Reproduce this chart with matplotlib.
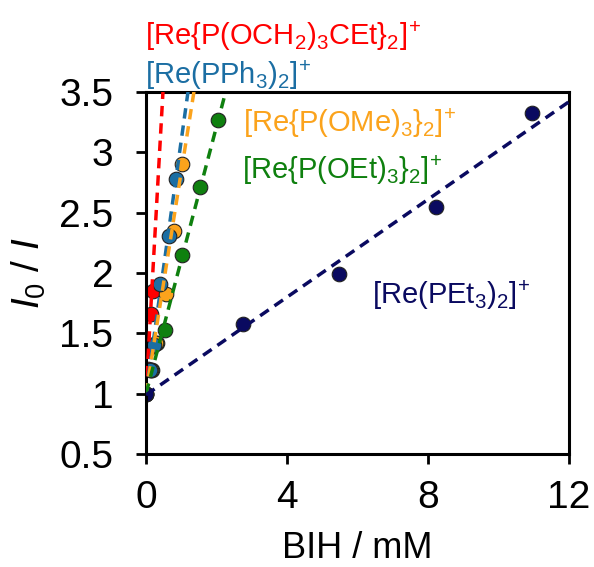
import numpy as np
import matplotlib
matplotlib.use("Agg")
import matplotlib.pyplot as plt

plt.rcParams['font.family'] = ['Liberation Sans', 'DejaVu Sans']
plt.rcParams['mathtext.fontset'] = 'custom'
plt.rcParams['mathtext.rm'] = 'Liberation Sans'
plt.rcParams['mathtext.it'] = 'Liberation Sans:italic'

# Data: BIH concentration (mM) vs I0/I
red_x = [0.065, 0.085, 0.14, 0.21]
red_y = [1.205, 1.38, 1.66, 1.855]
blue_x = [0.0, 0.11, 0.22, 0.40, 0.65, 0.84]
blue_y = [1.0, 1.2, 1.40, 1.91, 2.31, 2.78]
orange_x = [0.0, 0.13, 0.28, 0.57, 0.80, 1.03]
orange_y = [1.0, 1.2, 1.42, 1.83, 2.35, 2.90]
green_x = [0.0, 0.16, 0.30, 0.54, 1.03, 1.53, 2.05]
green_y = [1.0, 1.2, 1.42, 1.53, 2.15, 2.71, 3.27]
navy_x = [0.0, 2.74, 5.48, 8.22, 10.96]
navy_y = [1.0, 1.578, 1.99, 2.546, 3.33]

# linear fits (slope, intercept)
red_fit = (5.2, 1.0)
blue_fit = (2.1, 1.0)
orange_fit = (1.84, 1.0)
green_fit = (1.107, 1.0)
navy_fit = (0.2025, 0.99)

labels = [r'[Re{P(OCH$_2$)$_3$CEt}$_2$]$^{\!+}$', r'[Re(PPh$_3$)$_2$]$^{\!+}$',
          r'[Re{P(OMe)$_3$}$_2$]$^{\!+}$', r'[Re{P(OEt)$_3$}$_2$]$^{\!+}$',
          r'[Re(PEt$_3$)$_2$]$^{\!+}$']

c_red = '#FF0000'
c_blue = '#1B6EA3'
c_orange = '#FBA31C'
c_green = '#0F800F'
c_navy = '#0A0A60'

fig = plt.figure(figsize=(5.94, 5.67), dpi=100)
ax = fig.add_axes([0.2458, 0.1993, 0.958 - 0.2458, 0.8377 - 0.1993])

series = [(green_x, green_y, c_green), (red_x, red_y, c_red),
          (orange_x, orange_y, c_orange), (blue_x, blue_y, c_blue),
          (navy_x, navy_y, c_navy)]
for xs, ys, c in series:
    ax.plot(xs, ys, 'o', color=c, markersize=10.5, markeredgecolor='#222222',
            markeredgewidth=0.8, zorder=2)

xx = np.linspace(0, 12, 400)
for (m, b), c in [(red_fit, c_red), (blue_fit, c_blue), (orange_fit, c_orange),
                  (green_fit, c_green), (navy_fit, c_navy)]:
    ax.plot(xx, m * xx + b, '--', color=c, lw=2.5, dashes=(3.0, 2.0), zorder=3)

ax.set_xlim(0, 12)
ax.set_ylim(0.5, 3.5)
ax.set_xticks([0, 4, 8, 12])
ax.set_yticks([0.5, 1, 1.5, 2, 2.5, 3, 3.5])
ax.set_yticklabels(['0.5', '1', '1.5', '2', '2.5', '3', '3.5'])
ax.tick_params(direction='out', length=7.5, width=2, labelsize=28)
ax.tick_params(axis='x', pad=11)
ax.tick_params(axis='y', pad=16)
for s in ax.spines.values():
    s.set_linewidth(2.2)

ax.set_xlabel('BIH / mM', fontsize=26)
ax.set_ylabel(r'$I_0$ / $I$', fontsize=28)
ax.xaxis.set_label_coords(0.5, -0.213)
ax.yaxis.set_label_coords(-0.232, 0.5)

fs = 21
ax.text(-0.03, 3.886, labels[0], color=c_red, fontsize=fs, clip_on=False)
ax.text(-0.03, 3.57, labels[1], color=c_blue, fontsize=fs, clip_on=False)
ax.text(2.74, 3.167, labels[2], color=c_orange, fontsize=fs)
ax.text(2.71, 2.783, labels[3], color=c_green, fontsize=fs)
ax.text(6.4, 1.746, labels[4], color=c_navy, fontsize=fs)

fig.savefig('out.png', dpi=100)
